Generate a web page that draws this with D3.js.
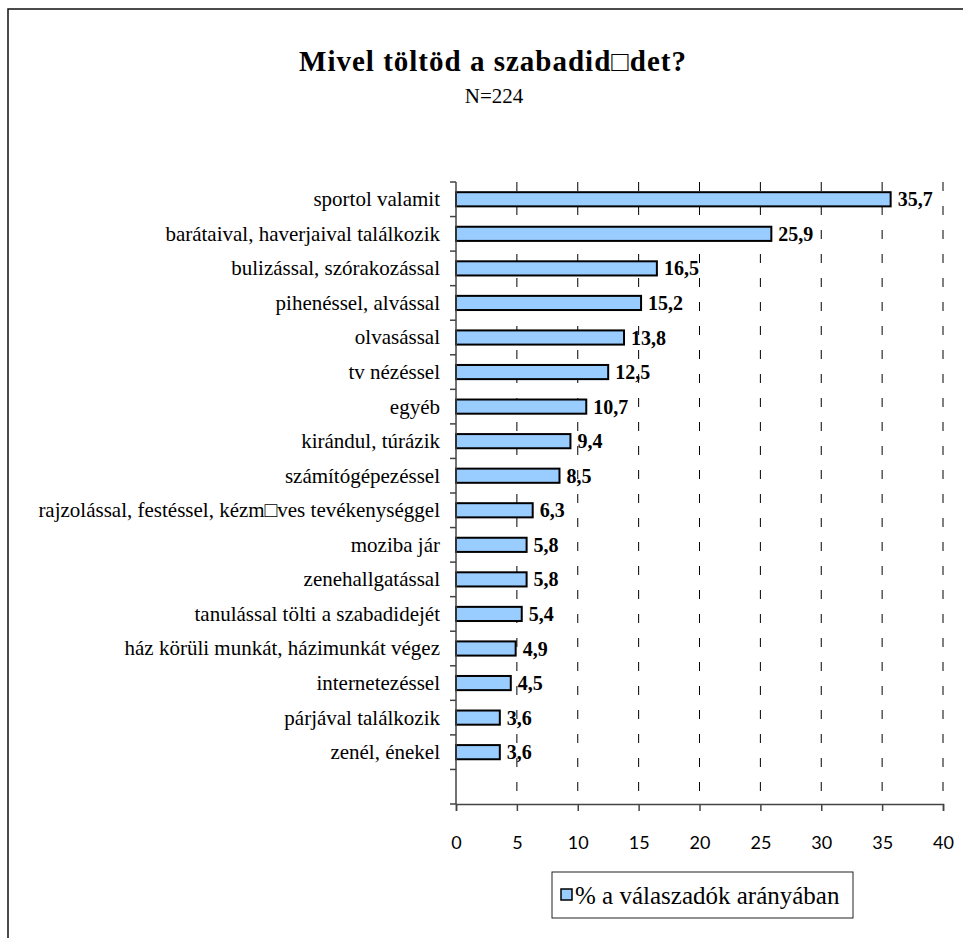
<!DOCTYPE html>
<html>
<head>
<meta charset="utf-8">
<script src="https://cdn.jsdelivr.net/npm/d3@7/dist/d3.min.js"></script>
<style>
  html, body { margin: 0; padding: 0; background: #fff; }
  svg { display: block; }
</style>
</head>
<body>
<svg id="chart" width="963" height="938"></svg>
<script>
const categories = [
  "sportol valamit",
  "barátaival, haverjaival találkozik",
  "bulizással, szórakozással",
  "pihenéssel, alvással",
  "olvasással",
  "tv nézéssel",
  "egyéb",
  "kirándul, túrázik",
  "számítógépezéssel",
  "rajzolással, festéssel, kézm\u25A1ves tevékenységgel",
  "moziba jár",
  "zenehallgatással",
  "tanulással tölti a szabadidejét",
  "ház körüli munkát, házimunkát végez",
  "internetezéssel",
  "párjával találkozik",
  "zenél, énekel"
];
const values = [35.7, 25.9, 16.5, 15.2, 13.8, 12.5, 10.7, 9.4, 8.5, 6.3, 5.8, 5.8, 5.4, 4.9, 4.5, 3.6, 3.6];
const xTicks = [0, 5, 10, 15, 20, 25, 30, 35, 40];
const titleText = "Mivel töltöd a szabadid\u25A1det?";
const subtitleText = "N=224";
const legendText = "% a válaszadók arányában";

(function () {
const svg = d3.select("#chart");
const serif = "'Liberation Serif', 'Times New Roman', serif";
const sans = "Lato, 'Open Sans', sans-serif";

// outer frame
svg.append("rect").attr("x", 8).attr("y", 9).attr("width", 1000).attr("height", 1000)
  .attr("fill", "none").attr("stroke", "#111").attr("stroke-width", 1.5);

const pLeft = 456, pRight = 943, pTop = 182, pBottom = 804;
const x = d3.scaleLinear().domain([0, 40]).range([pLeft, pRight]);
// an empty slot after the last category, as in the original
const slots = categories.concat([""]);
const y = d3.scaleBand().domain(slots).range([pTop, pBottom]).paddingInner(0).paddingOuter(0);
const barH = y.bandwidth() * 0.41;

// dashed gridlines
svg.append("g").selectAll("line").data(xTicks.filter(t => t > 0)).join("line")
  .attr("x1", d => x(d)).attr("x2", d => x(d))
  .attr("y1", pTop).attr("y2", pBottom)
  .attr("stroke", "#000").attr("stroke-width", 1)
  .attr("stroke-dasharray", "9,15");

// bars
const data = categories.map((c, i) => ({ c, v: values[i] }));
svg.append("g").selectAll("rect").data(data).join("rect")
  .attr("x", x(0))
  .attr("y", d => y(d.c) + y.bandwidth() / 2 - barH / 2)
  .attr("width", d => x(d.v) - x(0))
  .attr("height", barH)
  .attr("fill", "#99CCFF").attr("stroke", "#000").attr("stroke-width", 2);

// value labels
svg.append("g").selectAll("text").data(data).join("text")
  .attr("x", d => x(d.v) + 7)
  .attr("y", d => y(d.c) + y.bandwidth() / 2)
  .attr("dy", "0.35em")
  .style("font-family", serif).attr("font-weight", "bold").attr("font-size", 20)
  .attr("fill", "#000")
  .text(d => d.v.toFixed(1).replace(".", ","));

// y axis
const yAxis = svg.append("g").attr("transform", `translate(${pLeft},0)`);
yAxis.append("line").attr("x1", 0).attr("x2", 0).attr("y1", pTop).attr("y2", pBottom)
  .attr("stroke", "#444").attr("stroke-width", 1.5);
const boundaries = slots.map(s => y(s)).concat([pBottom]);
yAxis.selectAll("line.tick").data(boundaries).join("line").attr("class", "tick")
  .attr("x1", -6).attr("x2", 0).attr("y1", d => d).attr("y2", d => d)
  .attr("stroke", "#444").attr("stroke-width", 1.5);
yAxis.selectAll("text").data(categories).join("text")
  .attr("x", -16)
  .attr("y", d => y(d) + y.bandwidth() / 2)
  .attr("dy", "0.33em")
  .attr("text-anchor", "end")
  .style("font-family", serif).attr("font-size", 21).attr("fill", "#000")
  .text(d => d);

// x axis
const xAxis = d3.axisBottom(x).tickValues(xTicks).tickSize(7).tickPadding(25).tickFormat(d3.format("d"));
const gx = svg.append("g").attr("transform", `translate(0,${pBottom})`).call(xAxis);
gx.select(".domain").attr("stroke", "#444").attr("stroke-width", 1.5);
gx.selectAll(".tick line").attr("stroke", "#444").attr("stroke-width", 1.5);
gx.selectAll(".tick text").style("font-family", sans).attr("font-size", 18).attr("fill", "#000");

// title
svg.append("text").attr("x", 493).attr("y", 71).attr("text-anchor", "middle")
  .style("font-family", serif).attr("font-weight", "bold").attr("font-size", 29)
  .attr("letter-spacing", 1).attr("fill", "#000").text(titleText);
svg.append("text").attr("x", 494).attr("y", 103).attr("text-anchor", "middle")
  .style("font-family", serif).attr("font-size", 21).attr("fill", "#000").text(subtitleText);

// legend
const lg = svg.append("g");
lg.append("rect").attr("x", 552).attr("y", 872).attr("width", 301).attr("height", 46)
  .attr("fill", "#fff").attr("stroke", "#222").attr("stroke-width", 1);
lg.append("rect").attr("x", 561).attr("y", 889).attr("width", 11).attr("height", 11)
  .attr("fill", "#99CCFF").attr("stroke", "#000").attr("stroke-width", 1.5);
lg.append("text").attr("x", 575).attr("y", 904)
  .style("font-family", serif).attr("font-size", 25).attr("fill", "#000").text(legendText);
})();
</script>
</body>
</html>
